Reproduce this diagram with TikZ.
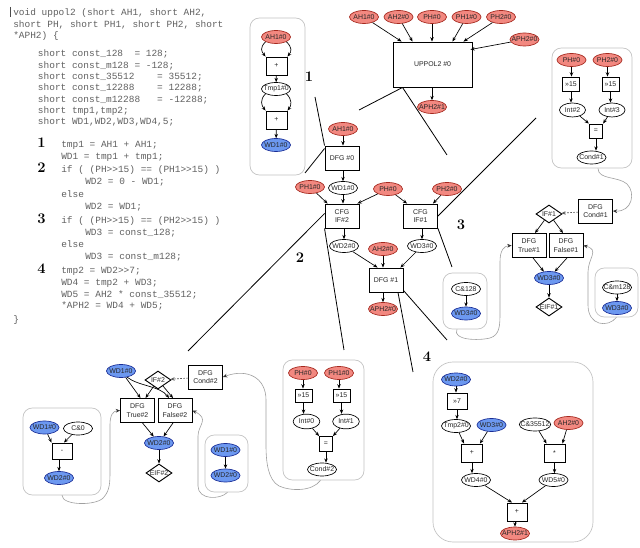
\documentclass[tikz,border=0pt]{standalone}
\usepackage{fontspec}
\setsansfont{Liberation Sans}
\newfontfamily\codefont{Liberation Mono}
\usetikzlibrary{shapes.geometric,arrows.meta,calc}
\definecolor{redfill}{RGB}{242,136,128}
\definecolor{redline}{RGB}{165,40,30}
\definecolor{bluefill}{RGB}{108,152,240}
\definecolor{blueline}{RGB}{25,45,150}
\definecolor{grpline}{RGB}{195,195,195}
\definecolor{lnkc}{RGB}{160,160,160}
\newcommand\gtgt{\textgreater\textgreater}
\begin{document}
\begin{tikzpicture}[x=0.75pt,y=-0.75pt,
  lbl/.style={font=\sffamily\fontsize{5.2}{6.2}\selectfont, text=black!85},
  ell/.style={ellipse, inner xsep=-2.5pt, inner ysep=0pt, minimum width=21.75pt, minimum height=9.75pt, line width=0.5pt, lbl},
  rE/.style={ell, draw=redline, fill=redfill},
  bE/.style={ell, draw=blueline, fill=bluefill},
  wE/.style={ell, draw=black, fill=white},
  op/.style={rectangle, draw, line width=0.7pt, fill=white, inner sep=0pt, lbl, minimum width=15.75pt, minimum height=13.5pt},
  blk/.style={rectangle, draw, line width=0.7pt, fill=white, inner sep=0pt, lbl, align=center, minimum width=25.5pt, minimum height=18pt},
  dia/.style={diamond, aspect=1.4, draw, line width=0.7pt, fill=white, inner sep=0pt, lbl, minimum width=19.5pt, minimum height=13.5pt},
  grp/.style={rectangle, draw=grpline, line width=0.5pt, rounded corners=7pt, inner sep=0pt},
  arr/.style={-{Stealth[length=3.2pt,width=2.6pt]}, line width=0.5pt},
  dsh/.style={arr, draw=black!65, dash pattern=on 1.3pt off 1pt},
  lnk/.style={draw=lnkc, line width=0.45pt, -{Stealth[length=3.2pt,width=2.8pt,color=black!80]}},
  zl/.style={line width=0.6pt},
  num/.style={font=\fontsize{11}{12}\selectfont\bfseries, inner sep=0pt},
  code/.style={font=\codefont\fontsize{7.1}{8}\selectfont, text=black!62, anchor=base west, inner sep=0pt}
]
\fill[white] (0,0) rectangle (640,548);
\useasboundingbox (0,0) rectangle (640,548);

% ---------------- code ----------------
\draw[line width=0.4pt, black!70] (10.5,7) -- (10.5,17);
\node[code] (c1) at (13,15.5) {void uppol2 (short AH1, short AH2,};
\node[code] (c2) at (13,27.5) {short PH, short PH1, short PH2, short};
\node[code] (c3) at (13,39) {*APH2) \{};
\node[code] (c4) at (37.7,57) {short const\_128~~= 128;};
\node[code] (c5) at (37.7,68.3) {short const\_m128 = -128;};
\node[code] (c6) at (37.7,79.6) {short const\_35512~~~~= 35512;};
\node[code] (c7) at (37.7,90.9) {short const\_12288~~~~= 12288;};
\node[code] (c8) at (37.7,102.2) {short const\_m12288~~~= -12288;};
\node[code] (c9) at (37.7,113.5) {short tmp1,tmp2;};
\node[code] (c10) at (37.7,124.8) {short WD1,WD2,WD3,WD4,5;};
\node[num, anchor=base west] (k1) at (37,148) {1};
\node[code] (c11) at (61,148) {tmp1 = AH1 + AH1;};
\node[code] (c12) at (61,160) {WD1 = tmp1 + tmp1;};
\node[num, anchor=base west] (k2) at (37,173) {2};
\node[code] (c13) at (61,173) {if ( (PH\gtgt15) == (PH1\gtgt15) )};
\node[code] (c14) at (85,185) {WD2 = 0 - WD1;};
\node[code] (c15) at (61,197.5) {else};
\node[code] (c16) at (85,209.5) {WD2 = WD1;};
\node[num, anchor=base west] (k3) at (37,224) {3};
\node[code] (c17) at (61,224) {if ( (PH\gtgt15) == (PH2\gtgt15) )};
\node[code] (c18) at (85,236) {WD3 = const\_128;};
\node[code] (c19) at (61,248) {else};
\node[code] (c20) at (85,260) {WD3 = const\_m128;};
\node[num, anchor=base west] (k4) at (37,273.5) {4};
\node[code] (c21) at (61,273.5) {tmp2 = WD2\gtgt7;};
\node[code] (c22) at (61,285.5) {WD4 = tmp2 + WD3;};
\node[code] (c23) at (61,297.5) {WD5 = AH2 * const\_35512;};
\node[code] (c24) at (61,309) {*APH2 = WD4 + WD5;};
\node[code] (c25) at (13,323) {\}};

% ---------------- group boxes ----------------
\node[grp, minimum width=41.25pt, minimum height=117.75pt] (g1) at (277.5,96.5) {};
\node[grp, minimum width=60pt, minimum height=90pt] (gc1) at (592,108) {};
\node[grp, minimum width=32.25pt, minimum height=36.75pt] (gcm) at (616.5,292.5) {};
\node[grp, minimum width=33pt, minimum height=42pt] (gc128) at (465,301) {};
\node[grp, minimum width=58.5pt, minimum height=65.25pt] (gbl) at (62,451.5) {};
\node[grp, minimum width=32.25pt, minimum height=42.75pt] (gww) at (226.5,463.5) {};
\node[grp, minimum width=60.75pt, minimum height=90pt] (gc2) at (323.5,420) {};
\node[grp, rounded corners=15pt, minimum width=120pt, minimum height=135pt] (g4) at (513,452) {};

% ---------------- section labels ----------------
\node[num] (n1) at (309,77) {1};
\node[num] (n2) at (300,258) {2};
\node[num] (n3) at (461,225) {3};
\node[num] (n4) at (427,357) {4};

% ---------------- subgraph 1 ----------------
\node[rE] (s1a) at (276,37) {AH1\#0};
\node[op] (s1p1) at (276.5,66) {+};
\node[wE] (s1t) at (276,89) {Tmp1\#0};
\node[op] (s1p2) at (276.5,120) {+};
\node[bE] (s1w) at (276,145) {WD1\#0};
\draw[arr] (s1a.south west) .. controls +(-6,6) and +(-4,-5) .. (s1p1.north west);
\draw[arr] (s1a.south east) .. controls +(6,6) and +(4,-5) .. (s1p1.north east);
\draw[arr] (s1p1) -- (s1t);
\draw[arr] (s1t.south west) .. controls +(-6,6) and +(-4,-5) .. (s1p2.north west);
\draw[arr] (s1t.south east) .. controls +(6,6) and +(4,-5) .. (s1p2.north east);
\draw[arr] (s1p2) -- (s1w);

% ---------------- UPPOL2 ----------------
\node[rE] (u1) at (364,17) {AH1\#0};
\node[rE] (u2) at (398.5,17) {AH2\#0};
\node[rE] (u3) at (432,17) {PH\#0};
\node[rE] (u4) at (466.5,17) {PH1\#0};
\node[rE] (u5) at (501,17) {PH2\#0};
\node[rE] (u6) at (524.5,39.5) {APH2\#0};
\node[blk, minimum width=59.25pt, minimum height=33.75pt] (up) at (432.5,64.5) {UPPOL2 \#0};
\node[rE] (u7) at (432,107) {APH2\#1};
\draw[arr] (u1) -- ($(up.north west)+(9,0)$);
\draw[arr] (u2) -- ($(up.north west)+(20,0)$);
\draw[arr] (u3) -- (u3 |- up.north);
\draw[arr] (u4) -- ($(up.north east)+(-20,0)$);
\draw[arr] (u5) -- ($(up.north east)+(-9,0)$);
\draw[arr] (u6) -- ($(up.north east)+(-2,8)$);
\draw[arr] (u7 |- up.south) -- (u7);

% ---------------- CFG ----------------
\node[rE] (cah1) at (343,129) {AH1\#0};
\node[blk] (d0) at (342,158) {DFG \#0};
\node[wE] (cw1) at (343,188) {WD1\#0};
\node[rE] (cph1) at (310,187) {PH1\#0};
\node[rE] (cph) at (388,189) {PH\#0};
\node[rE] (cph2) at (447,189) {PH2\#0};
\node[blk] (cf2) at (342,216) {CFG\\IF\#2};
\node[blk] (cf1) at (420.5,216) {CFG\\IF\#1};
\node[wE] (cw2) at (344,246) {WD2\#0};
\node[wE] (cw3) at (422,246) {WD3\#0};
\node[rE] (cah2) at (383,249) {AH2\#0};
\node[blk] (d1) at (386,280) {DFG \#1};
\node[rE] (capo) at (383,309) {APH2\#0};
\draw[arr] (cah1) -- (cah1 |- d0.north);
\draw[arr] (cw1 |- d0.south) -- (cw1);
\draw[arr] (cph1) -- ($(cf2.north west)+(3,0)$);
\draw[arr] (cw1) -- (cw1 |- cf2.north);
\draw[arr] (cph) -- ($(cf2.north east)+(-2,0)$);
\draw[arr] (cph) -- ($(cf1.north west)+(4,0)$);
\draw[arr] (cph2) -- ($(cf1.north east)+(-5,0)$);
\draw[arr] (cw2 |- cf2.south) -- (cw2);
\draw[arr] (cw3 |- cf1.south) -- (cw3);
\draw[arr] (cw2) -- ($(d1.north west)+(9,0)$);
\draw[arr] (cah2) -- (cah2 |- d1.north);
\draw[arr] (cw3) -- ($(d1.north east)+(-3,0)$);
\draw[arr] (capo |- d1.south) -- (capo);

% ---------------- Cond#1 subgraph ----------------
\node[rE] (r1) at (571.5,60) {PH\#0};
\node[rE] (r2) at (607.5,60) {PH2\#0};
\node[op, minimum width=12.75pt, minimum height=10.5pt] (r3) at (571,84) {\gtgt15};
\node[op, minimum width=12.75pt, minimum height=10.5pt] (r4) at (610.5,84) {\gtgt15};
\node[wE, minimum width=19.5pt, minimum height=10.5pt] (r5) at (572.5,110) {Int\#2};
\node[wE, minimum width=19.5pt, minimum height=10.5pt] (r6) at (612,110) {Int\#3};
\node[op, minimum width=10pt, minimum height=10.5pt] (r7) at (596,131) {=};
\node[wE] (r8) at (591.5,157.5) {Cond\#1};
\draw[arr] (r1) -- (r1 |- r3.north);
\draw[arr] (r2) -- (r2 |- r4.north);
\draw[arr] (r3) -- (r3 |- r5.north);
\draw[arr] (r4) -- (r4 |- r6.north);
\draw[arr] (r5) -- (r7.north west);
\draw[arr] (r6) -- (r7.north east);
\draw[arr] (r7) -- (r7 |- r8.north);

% ---------------- IF#1 ----------------
\node[blk] (dc1) at (595.5,211) {DFG\\Cond\#1};
\node[dia] (if1) at (549,214) {IF\#1};
\node[blk] (dt1) at (529,245.5) {DFG\\True\#1};
\node[blk] (df1) at (566,245.5) {DFG\\False\#1};
\node[bE] (w3c) at (549,278) {WD3\#0};
\node[dia] (eif1) at (549,307) {EIF\#1};
\draw[dsh] (dc1) -- (if1);
\draw[arr] (if1) -- ($(dt1.north)+(6,0)$);
\draw[arr] (if1) -- ($(df1.north)+(-3,0)$);
\draw[arr] ($(dt1.south)+(4,0)$) -- (w3c);
\draw[arr] ($(df1.south)+(1,0)$) -- (w3c);
\draw[arr] (w3c) -- (eif1);

\node[wE] (cm) at (617,287.5) {C\&m128};
\node[bE] (cmw) at (617,308) {WD3\#0};
\draw[arr] (cm) -- (cmw);
\node[wE] (c128) at (466,289) {C\&128};
\node[bE] (c128w) at (466,313.5) {WD3\#0};
\draw[arr] (c128) -- (c128w);

% ---------------- IF#2 ----------------
\node[bE] (bw1) at (121,371) {WD1\#0};
\node[dia] (if2) at (158,380) {IF\#2};
\node[blk] (dc2) at (205.5,377) {DFG\\Cond\#2};
\node[blk] (dt2) at (137.5,410.5) {DFG\\True\#2};
\node[blk] (df2) at (175,410.5) {DFG\\False\#2};
\node[bE] (bw2) at (159,443) {WD2\#0};
\node[dia] (eif2) at (159,473) {EIF\#2};
\draw[dsh] (dc2) -- (if2);
\draw[arr] (bw1) -- ($(dt2.north)+(3,0)$);
\draw[arr] (bw1.-45) .. controls (138,386) and (160,386) .. ($(df2.north)+(-6,0)$);
\draw[arr] (if2) -- ($(dt2.north)+(8,0)$);
\draw[arr] (if2) -- ($(df2.north)+(-2,0)$);
\draw[arr] ($(dt2.south)+(5,0)$) -- (bw2);
\draw[arr] ($(df2.south)+(-2,0)$) -- (bw2);
\draw[arr] (bw2) -- (eif2);

\node[bE] (ww1) at (225.5,450) {WD1\#0};
\node[bE] (ww2) at (225.5,475.5) {WD2\#0};
\draw[arr] (ww1) -- (ww2);

% ---------------- bottom left ----------------
\node[bE] (bl1) at (44.5,427.5) {WD1\#0};
\node[wE] (bl2) at (78,428.5) {C\&0};
\node[op, minimum width=15pt, minimum height=12pt] (blm) at (62,451) {-};
\node[bE] (bl3) at (59,478) {WD2\#0};
\draw[arr] (bl1) -- (blm.north west);
\draw[arr] (bl2) -- ($(blm.north)+(2,0)$);
\draw[arr] (bl3 |- blm.south) -- (bl3);

% ---------------- Cond#2 subgraph ----------------
\node[rE] (q1) at (303,373) {PH\#0};
\node[rE] (q2) at (339,373) {PH1\#0};
\node[op, minimum width=12.75pt, minimum height=9.75pt] (q3) at (303.5,395.5) {\gtgt15};
\node[op, minimum width=12.75pt, minimum height=9.75pt] (q4) at (341.5,395.5) {\gtgt15};
\node[wE, minimum width=20pt, minimum height=11pt] (q5) at (306.5,421.5) {Int\#0};
\node[wE, minimum width=20pt, minimum height=11pt] (q6) at (346,421.5) {Int\#1};
\node[op, minimum width=9.75pt, minimum height=11.25pt] (q7) at (326,444) {=};
\node[wE] (q8) at (322,469.5) {Cond\#2};
\draw[arr] (q1) -- (q1 |- q3.north);
\draw[arr] (q2) -- (q2 |- q4.north);
\draw[arr] (q3) -- (q3 |- q5.north);
\draw[arr] (q4) -- (q4 |- q6.north);
\draw[arr] (q5) -- (q7.north west);
\draw[arr] (q6) -- (q7.north east);
\draw[arr] (q7) -- (q7 |- q8.north);

% ---------------- subgraph 4 ----------------
\node[bE] (f1) at (456,379.5) {WD2\#0};
\node[op, minimum width=15pt, minimum height=12pt] (f2) at (457,401) {\gtgt7};
\node[wE] (f3) at (456,426) {Tmp2\#0};
\node[bE] (f4) at (491.5,425) {WD3\#0};
\node[op] (f5) at (472,453) {+};
\node[wE] (f6) at (535,424.5) {C\&35512};
\node[rE] (f7) at (568.5,423) {AH2\#0};
\node[op] (f8) at (554.5,453) {*};
\node[wE] (f9) at (476,480) {WD4\#0};
\node[wE] (f10) at (553.5,480) {WD5\#0};
\node[op, minimum width=15pt] (f11) at (517,512) {+};
\node[rE] (f12) at (515,533.5) {APH2\#1};
\draw[arr] (f1) -- (f1 |- f2.north);
\draw[arr] (f2) -- (f2 |- f3.north);
\draw[arr] (f3) -- ($(f5.north west)+(3,0)$);
\draw[arr] (f4) -- ($(f5.north east)+(-3,0)$);
\draw[arr] (f5) -- (f5 |- f9.north);
\draw[arr] (f6) -- ($(f8.north west)+(3,0)$);
\draw[arr] (f7) -- ($(f8.north east)+(-3,0)$);
\draw[arr] (f8) -- (f8 |- f10.north);
\draw[arr] (f9) -- ($(f11.north)+(-5,0)$);
\draw[arr] (f10) -- ($(f11.north)+(5,0)$);
\draw[arr] (f12 |- f11.south) -- (f12);

% ---------------- links from subgraphs ----------------
\draw[lnk] ($(gc1.south)+(6,0)$) .. controls (598,180) and (618,176) .. (627,184) .. controls (636,193) and (632,212) .. (dc1.east);
\draw[lnk] (gcm.south) .. controls (608,328) and (588,326) .. (588,305) -- (588,272) .. controls (588,258) and (600,250) .. (df1.east);
\draw[lnk] ($(gc128.south)+(-8,0)$) .. controls (452,340) and (478,341) .. (490,338) .. controls (500,335) and (500,325) .. (500,312) -- (500,262) .. controls (500,250) and (504,246) .. (dt1.west);
\draw[lnk] (gbl.south) .. controls (62,506) and (98,506) .. (104,497) .. controls (110,490) and (110,482) .. (110,470) -- (110,425) .. controls (110,415) and (113,411) .. (dt2.west);
\draw[lnk] ($(gww.south)+(1,0)$) .. controls (220,500) and (198,500) .. (198,486) -- (198,436) .. controls (198,425) and (210,419) .. (df2.east);
\draw[lnk] ($(gc2.south)+(-3,0)$) .. controls (312,492) and (290,491) .. (279,486) .. controls (268,480) and (266,462) .. (266,445) -- (266,400) .. controls (266,378) and (248,368) .. (dc2.east);

% ---------------- zoom lines ----------------
\coordinate (z1) at (315,97);
\coordinate (z2) at (305,173);
\coordinate (z3) at (359,110);
\coordinate (z4) at (447,155);
\coordinate (z5) at (188,351);
\coordinate (z6) at (344,350);
\coordinate (z7) at (536,118);
\coordinate (z8) at (452,267);
\coordinate (z9) at (447,340);
\coordinate (z10) at (413,372);
\draw[zl] (z1) -- (d0.north west);
\draw[zl] ($(d0.north west)+(0,3)$) -- (z2);
\draw[zl] ($(up.south west)+(10,0)$) -- (z3);
\draw[zl] ($(up.south west)+(10,0)$) -- (z4);
\draw[zl] ($(cf2.north west)+(0,10)$) -- (z5);
\draw[zl] (cf2.south west) -- (z6);
\draw[zl] (cf1.east) -- (z7);
\draw[zl] (cf1.south east) -- (z8);
\draw[zl] ($(d1.south east)+(0,-2)$) -- (z9);
\draw[zl] ($(d1.south)+(12,0)$) -- (z10);
\end{tikzpicture}
\end{document}
